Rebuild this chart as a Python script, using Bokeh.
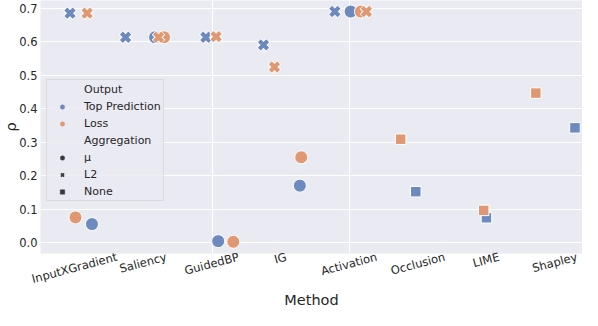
import math
from bokeh.plotting import figure
from bokeh.models import (Range1d, FixedTicker, NumeralTickFormatter, Legend, LegendItem,
                          ColumnDataSource)
from bokeh.embed import file_html
from bokeh.resources import INLINE

methods = ["InputXGradient", "Saliency", "GuidedBP", "IG", "Activation", "Occlusion", "LIME", "Shapley"]
outputs = ["Top Prediction", "Loss"]
aggregations = ["μ", "L2", "None"]

# rho per method (None = not available)
top_mu    = [0.055, 0.614, 0.004, 0.170, 0.691, None, None, None]
top_l2    = [0.686, 0.614, 0.614, 0.591, 0.691, None, None, None]
top_none  = [None, None, None, None, None, 0.152, 0.074, 0.343]
loss_mu   = [0.075, 0.614, 0.002, 0.255, 0.691, None, None, None]
loss_l2   = [0.686, 0.614, 0.616, 0.525, 0.691, None, None, None]
loss_none = [None, None, None, None, None, 0.309, 0.096, 0.447]

# horizontal jitter of each point (fraction of a category width)
top_mu_jit    = [0.25, 0.17, 0.09, 0.28, 0.02, None, None, None]
top_l2_jit    = [-0.07, -0.26, -0.09, -0.25, -0.21, None, None, None]
top_none_jit  = [None, None, None, None, None, -0.03, 0.00, 0.29]
loss_mu_jit   = [0.01, 0.30, 0.31, 0.30, 0.17, None, None, None]
loss_l2_jit   = [0.18, 0.22, 0.06, -0.09, 0.25, None, None, None]
loss_none_jit = [None, None, None, None, None, -0.25, -0.04, -0.28]

y_ticks = [0.0, 0.1, 0.2, 0.3, 0.4, 0.5, 0.6, 0.7]

BLUE = "#6C8ABD"
ORANGE = "#E09872"
DARK = "#3A3A3C"
BG = "#EAEAF2"
TXT = "#262626"
NAN = float("nan")
ROT = math.radians(15)
TICK_PX = 11.5

# DejaVu Sans advance widths (units per 2048 em) used to centre the rotated labels
_ADV = {"A": 1401, "B": 1405, "E": 1294, "G": 1589, "I": 604, "L": 1141, "M": 1767, "O": 1612,
        "P": 1235, "S": 1300, "X": 1403, "a": 1255, "c": 1126, "d": 1300, "e": 1260, "h": 1298,
        "i": 569, "l": 569, "n": 1298, "o": 1253, "p": 1300, "r": 842, "t": 803, "u": 1298,
        "v": 1212, "y": 1212}


def text_w(s, px):
    return sum(_ADV.get(c, 1250) for c in s) / 2048.0 * px


def src(vals, jit):
    xs, ys = [], []
    for i, (v, j) in enumerate(zip(vals, jit)):
        if v is not None:
            xs.append(i + j)
            ys.append(v)
    return ColumnDataSource(dict(x=xs, y=ys))


X0, X1 = -0.5, 7.4
p = figure(width=582, height=310, output_backend="svg", toolbar_location=None,
           x_range=Range1d(X0, X1), y_range=Range1d(-0.033, 0.724),
           min_border_left=0, min_border_right=0, min_border_top=0, min_border_bottom=0)
p.background_fill_color = BG
p.border_fill_color = "white"
p.outline_line_color = None

# draw series
series = [
    (top_mu, top_mu_jit, BLUE, "circle"),
    (top_l2, top_l2_jit, BLUE, "x"),
    (top_none, top_none_jit, BLUE, "square"),
    (loss_mu, loss_mu_jit, ORANGE, "circle"),
    (loss_l2, loss_l2_jit, ORANGE, "x"),
    (loss_none, loss_none_jit, ORANGE, "square"),
]
for vals, jit, col, mk in series:
    s = src(vals, jit)
    if mk == "circle":
        p.scatter("x", "y", source=s, marker="circle", size=13, fill_color=col,
                  line_color="white", line_width=1)
    elif mk == "square":
        p.scatter("x", "y", source=s, marker="square", size=10.5, fill_color=col,
                  line_color="white", line_width=1)
    else:
        p.scatter("x", "y", source=s, marker="x", size=13, line_color="white", line_width=6.2)
        p.scatter("x", "y", source=s, marker="x", size=11.8, line_color=col, line_width=4.2)

# x axis: Bokeh right-aligns rotated tick labels at the tick, so each label's tick is
# moved right by half the label's rotated width to centre the text on its category.
px_per_unit = 68.75
tick_pos = [i + (text_w(m, TICK_PX) * math.cos(ROT) / 2 - 0.3) / px_per_unit
            for i, m in enumerate(methods)]
p.xaxis.ticker = FixedTicker(ticks=tick_pos)
p.xaxis.major_label_overrides = {t: m for t, m in zip(tick_pos, methods)}
p.xaxis.major_label_orientation = ROT
p.yaxis.ticker = FixedTicker(ticks=y_ticks)
p.yaxis.formatter = NumeralTickFormatter(format="0.0")
p.xgrid.ticker = FixedTicker(ticks=[2, 4])
p.ygrid.ticker = FixedTicker(ticks=y_ticks)
for g in (p.xgrid, p.ygrid):
    g.grid_line_color = "white"
    g.grid_line_width = 1
for ax in (p.xaxis, p.yaxis):
    ax.axis_line_color = None
    ax.major_tick_line_color = None
    ax.minor_tick_line_color = None
    ax.major_tick_out = 0
    ax.major_tick_in = 0
    ax.minor_tick_out = 0
    ax.minor_tick_in = 0
    ax.major_label_text_font = "DejaVu Sans"
    ax.major_label_text_font_size = f"{TICK_PX}px"
    ax.major_label_text_color = TXT
    ax.major_label_standoff = 3
    ax.axis_label_text_font = "DejaVu Sans"
    ax.axis_label_text_font_size = "14.5px"
    ax.axis_label_text_font_style = "normal"
    ax.axis_label_text_color = TXT
    ax.axis_label_standoff = 0
p.yaxis.axis_label_standoff = -3
p.xaxis.axis_label_standoff = -4
p.xaxis.axis_label = "Method"
p.yaxis.axis_label = "ρ"

# legend (glyph-only renderers, nothing drawn in the plot area)
def dummy(**kw):
    return p.scatter(x=[NAN], y=[NAN], **kw)

hdr1 = dummy(marker="circle", fill_alpha=0, line_alpha=0)
r_top = dummy(marker="circle", fill_color=BLUE, line_color=BLUE, line_width=0.5)
r_loss = dummy(marker="circle", fill_color=ORANGE, line_color=ORANGE, line_width=0.5)
hdr2 = dummy(marker="circle", fill_alpha=0, line_alpha=0)
r_mu = dummy(marker="circle", fill_color=DARK, line_color=DARK, line_width=0.5)
r_l2 = dummy(marker="x", line_color=DARK, line_width=1.8)
r_none = dummy(marker="square", fill_color=DARK, line_color=DARK, line_width=0.5)

items = [
    LegendItem(label="Output", renderers=[hdr1]),
    LegendItem(label=outputs[0], renderers=[r_top]),
    LegendItem(label=outputs[1], renderers=[r_loss]),
    LegendItem(label="Aggregation", renderers=[hdr2]),
    LegendItem(label=aggregations[0], renderers=[r_mu]),
    LegendItem(label=aggregations[1], renderers=[r_l2]),
    LegendItem(label=aggregations[2], renderers=[r_none]),
]
legend = Legend(items=items, location=(6, 52))
legend.label_text_font = "DejaVu Sans"
legend.label_text_font_size = "11px"
legend.label_text_color = TXT
legend.glyph_height = 11
legend.glyph_width = 26
legend.label_height = 14
legend.label_standoff = 9
legend.spacing = 3
legend.padding = 2
legend.margin = 0
legend.background_fill_color = BG
legend.background_fill_alpha = 0.8
legend.border_line_color = "#CCCCCC"
legend.border_line_width = 1
p.add_layout(legend, "center")

open("out.html", "w").write(file_html(p, INLINE))
